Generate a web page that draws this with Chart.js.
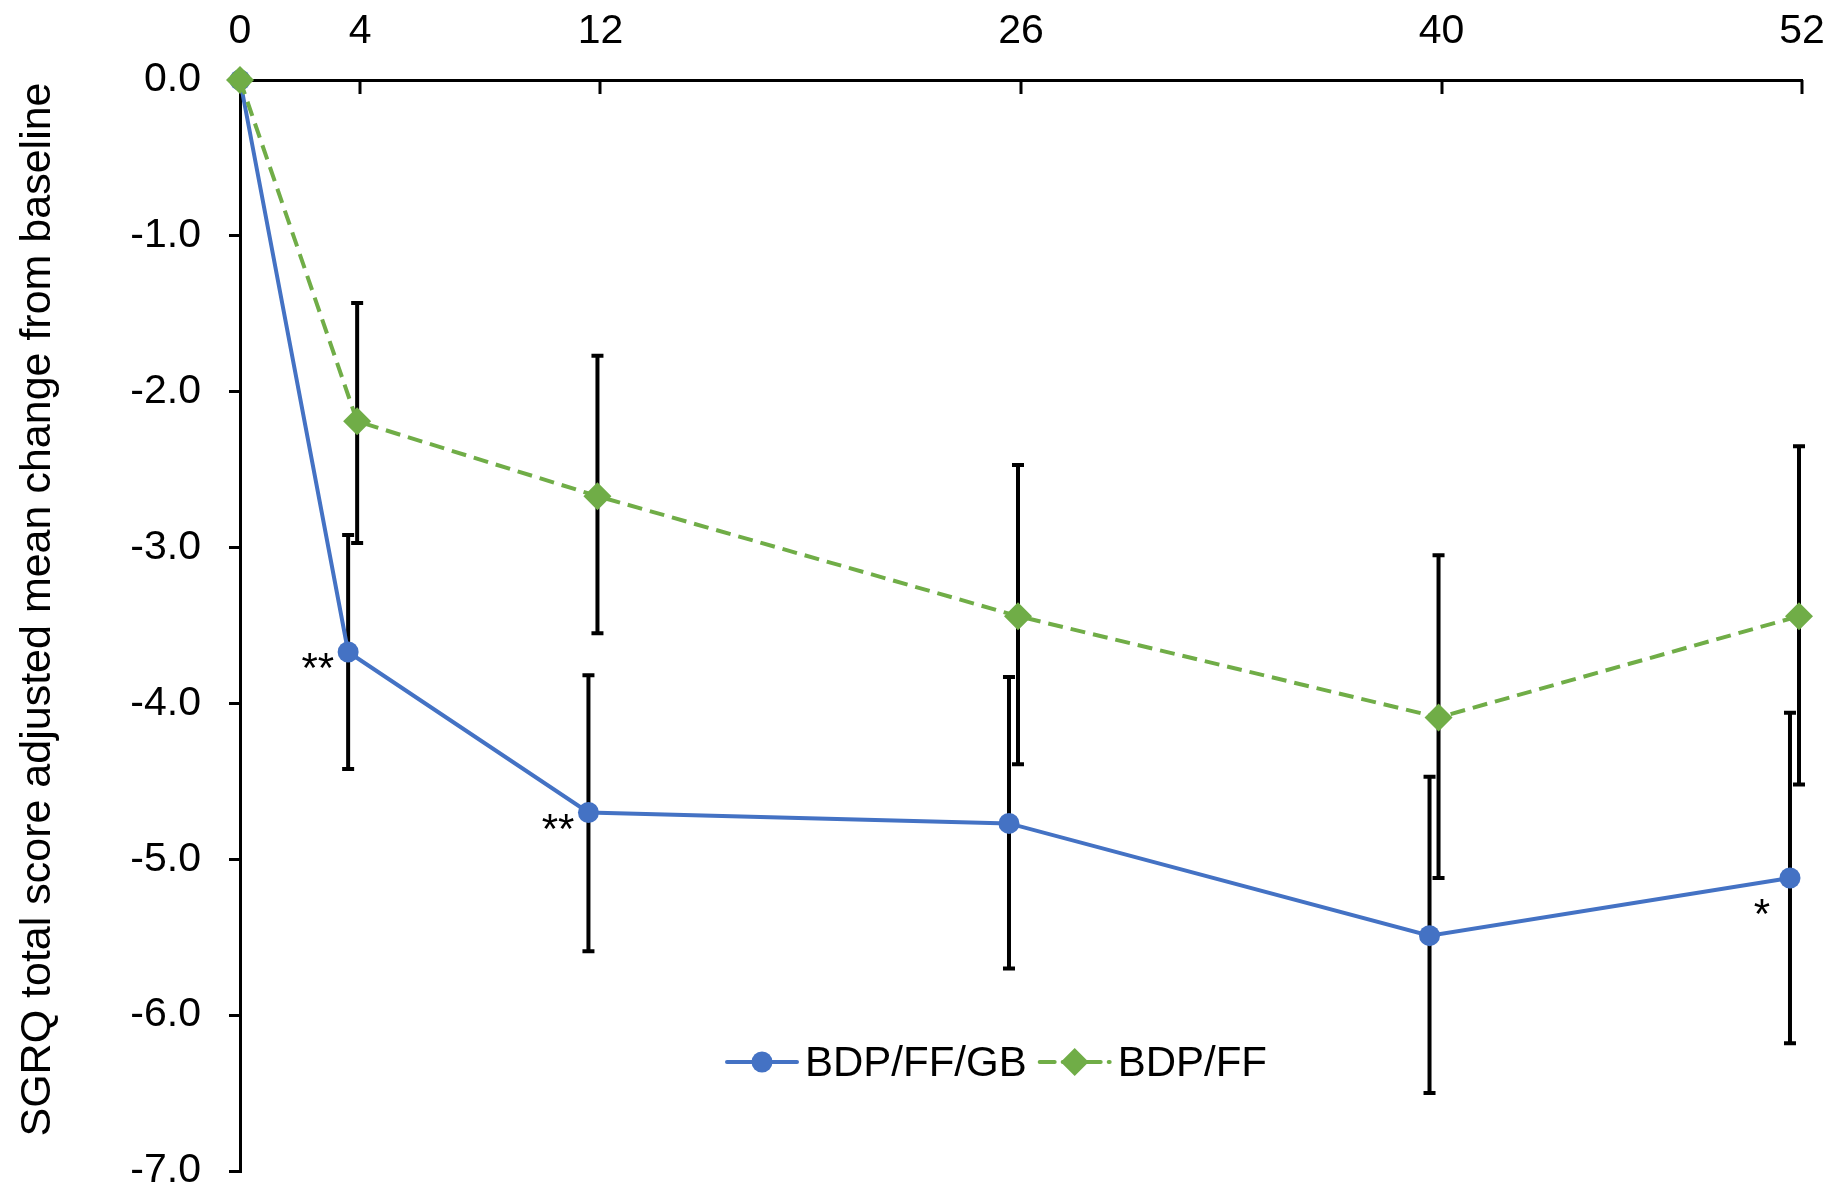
<!DOCTYPE html>
<html>
<head>
<meta charset="UTF-8">
<title>SGRQ total score</title>
<script src="https://cdn.jsdelivr.net/npm/chart.js@4"></script>
<style>
  html, body { margin: 0; background: #fff; }
  #wrap { width: 1836px; height: 1188px; }
</style>
</head>
<body>
<div id="wrap"><canvas id="sgrqChart"></canvas></div>
<script>
// Weeks shown on the top axis
const weeks = [0, 4, 12, 26, 40, 52];

// BDP/FF/GB
const tripleMean  = [0, -3.67, -4.70, -4.77, -5.49, -5.12];
const tripleUpper = [null, -2.92, -3.82, -3.83, -4.47, -4.06];
const tripleLower = [null, -4.42, -5.59, -5.70, -6.50, -6.18];
const tripleStars = ['', '**', '**', '', '', '*'];

// BDP/FF
const dualMean  = [0, -2.19, -2.67, -3.44, -4.09, -3.44];
const dualUpper = [null, -1.43, -1.77, -2.47, -3.05, -2.35];
const dualLower = [null, -2.97, -3.55, -4.39, -5.12, -4.52];

const yMin = -7;
const yMax = 0;
const yTitle = 'SGRQ total score adjusted mean change from baseline';

const BLUE = '#4472C4';
const GREEN = '#70AD47';
const FONT = '"Liberation Sans", Arial, sans-serif';

// the two series are nudged sideways a little so the error bars do not overlap
function shifted(shift) {
    return weeks.map(w => w === 0 ? 0 : w + shift);
}

const xTriple = shifted(-0.4);
const xDual = shifted(-0.1);

// error bars, drawn under the lines
const errorBars = {
    id: 'errorBars',
    beforeDatasetsDraw(chart) {
        const { ctx, scales: { x, y } } = chart;
        ctx.save();
        ctx.strokeStyle = '#000';
        ctx.lineWidth = 4;
        chart.data.datasets.forEach(ds => {
            ds.data.forEach((p, i) => {
                if (ds.errUpper[i] == null) return;
                const px = x.getPixelForValue(p.x);
                const top = y.getPixelForValue(ds.errUpper[i]);
                const bot = y.getPixelForValue(ds.errLower[i]);
                ctx.beginPath();
                ctx.moveTo(px, top); ctx.lineTo(px, bot);
                ctx.moveTo(px - 6, top); ctx.lineTo(px + 6, top);
                ctx.moveTo(px - 6, bot); ctx.lineTo(px + 6, bot);
                ctx.stroke();
            });
        });
        ctx.restore();
    }
};

// tick marks of the top axis point down into the plot
const innerTicks = {
    id: 'innerTicks',
    afterDraw(chart) {
        const { ctx, scales: { x }, chartArea } = chart;
        ctx.save();
        ctx.strokeStyle = '#000';
        ctx.lineWidth = 3;
        weeks.forEach(w => {
            if (w === 0) return;
            const px = Math.round(x.getPixelForValue(w));
            ctx.beginPath();
            ctx.moveTo(px, chartArea.top);
            ctx.lineTo(px, chartArea.top + 14);
            ctx.stroke();
        });
        ctx.restore();
    }
};

// significance stars next to the BDP/FF/GB points
const stars = {
    id: 'stars',
    afterDatasetsDraw(chart) {
        const { ctx } = chart;
        const meta = chart.getDatasetMeta(0);
        ctx.save();
        ctx.font = '42px ' + FONT;
        ctx.fillStyle = '#000';
        ctx.textAlign = 'right';
        ctx.textBaseline = 'alphabetic';
        tripleStars.forEach((s, i) => {
            if (!s) return;
            const pt = meta.data[i];
            if (s === '*') {
                ctx.fillText(s, pt.x - 20, pt.y + 50);
            } else {
                ctx.fillText(s, pt.x - 14, pt.y + 30);
            }
        });
        ctx.restore();
    }
};

// rotated y-axis title, a bit above the middle of the axis as in the original
const yAxisTitle = {
    id: 'yAxisTitle',
    afterDraw(chart) {
        const { ctx, chartArea } = chart;
        ctx.save();
        ctx.translate(38, (chartArea.top + chartArea.bottom) / 2 - 16);
        ctx.rotate(-Math.PI / 2);
        ctx.font = '43px ' + FONT;
        ctx.fillStyle = '#000';
        ctx.textAlign = 'center';
        ctx.textBaseline = 'middle';
        ctx.fillText(yTitle, 0, 0);
        ctx.restore();
    }
};

// legend sits inside the plot, near the bottom
const innerLegend = {
    id: 'innerLegend',
    afterDraw(chart, args, opts) {
        const { ctx } = chart;
        let cx = opts.x;
        const cy = opts.y;
        ctx.save();
        ctx.font = '42px ' + FONT;
        ctx.textBaseline = 'middle';
        ctx.textAlign = 'left';
        chart.data.datasets.forEach(ds => {
            ctx.strokeStyle = ds.borderColor;
            ctx.lineWidth = ds.borderWidth;
            ctx.lineCap = 'round';
            ctx.setLineDash(ds.borderDash || []);
            ctx.beginPath();
            ctx.moveTo(cx, cy);
            ctx.lineTo(cx + 70, cy);
            ctx.stroke();
            ctx.setLineDash([]);
            ctx.fillStyle = ds.pointBackgroundColor;
            ctx.strokeStyle = ds.pointBackgroundColor;
            Chart.helpers.drawPoint(ctx, {
                pointStyle: ds.pointStyle, radius: ds.pointRadius, borderWidth: 0, rotation: 0
            }, cx + 35, cy);
            ctx.fillStyle = '#000';
            ctx.fillText(ds.label, cx + 78, cy + 2);
            cx += 78 + ctx.measureText(ds.label).width + 13;
        });
        ctx.restore();
    }
};

const context = document.getElementById('sgrqChart').getContext('2d');
new Chart(context, {
    type: 'line',
    data: {
        datasets: [
            {
                label: 'BDP/FF/GB',
                data: xTriple.map((w, i) => ({ x: w, y: tripleMean[i] })),
                errUpper: tripleUpper,
                errLower: tripleLower,
                borderColor: BLUE,
                borderWidth: 4,
                pointStyle: 'circle',
                pointRadius: 10.5,
                pointBackgroundColor: BLUE,
                pointBorderColor: BLUE,
                pointBorderWidth: 0,
                order: 1,
                clip: false
            },
            {
                label: 'BDP/FF',
                data: xDual.map((w, i) => ({ x: w, y: dualMean[i] })),
                errUpper: dualUpper,
                errLower: dualLower,
                borderColor: GREEN,
                borderWidth: 4,
                borderDash: [15, 8],
                pointStyle: 'rectRot',
                pointRadius: 14,
                pointBackgroundColor: GREEN,
                pointBorderColor: GREEN,
                pointBorderWidth: 0,
                order: 0,
                clip: false
            }
        ]
    },
    options: {
        responsive: true,
        maintainAspectRatio: false,
        animation: false,
        layout: { padding: { left: 0, top: 0, right: 34, bottom: 17 } },
        scales: {
            x: {
                type: 'linear',
                position: 'top',
                min: 0,
                max: 52,
                afterBuildTicks: scale => { scale.ticks = weeks.map(v => ({ value: v })); },
                afterFit: scale => {
                    scale.height = 80;
                    scale.paddingLeft = 0;
                    scale.paddingRight = 0;
                },
                ticks: {
                    color: '#000',
                    padding: 24,
                    font: { family: FONT, size: 41 },
                    maxRotation: 0,
                    autoSkip: false
                },
                grid: { drawOnChartArea: false, drawTicks: false },
                border: { color: '#000', width: 3 }
            },
            y: {
                min: yMin,
                max: yMax,
                afterFit: scale => {
                    scale.width = 240;
                    scale.paddingTop = 0;
                    scale.paddingBottom = 0;
                },
                ticks: {
                    stepSize: 1,
                    color: '#000',
                    padding: 28,
                    font: { family: FONT, size: 41 },
                    callback: v => v.toFixed(1)
                },
                grid: { drawOnChartArea: false, drawTicks: true, tickLength: 11, color: '#000', lineWidth: 3 },
                border: { color: '#000', width: 3 }
            }
        },
        plugins: {
            legend: { display: false },
            tooltip: { enabled: false },
            innerLegend: { x: 727, y: 1062 }
        }
    },
    plugins: [errorBars, innerTicks, stars, yAxisTitle, innerLegend]
});
</script>
</body>
</html>
